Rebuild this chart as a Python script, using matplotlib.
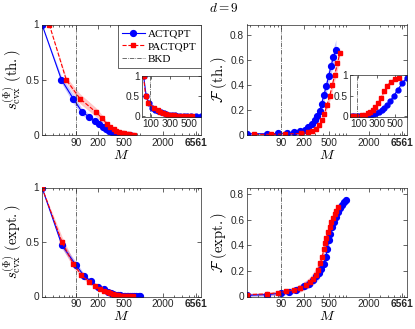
import matplotlib
matplotlib.use('Agg')
import numpy as np
import matplotlib.pyplot as plt
from matplotlib.ticker import LogLocator, NullFormatter

plt.rcParams['font.family'] = ['Liberation Sans', 'DejaVu Sans']
plt.rcParams['mathtext.fontset'] = 'cm'

# ---- top row: theory ----
M_act_th = [27, 54, 82, 112, 144, 177, 208, 237, 266, 295, 325, 353, 380, 412, 448, 487, 530, 576, 630]
M_pact_th = [35, 64, 104, 182, 232, 272, 306, 346, 379, 418, 460, 505, 556, 603, 665, 720]
M_pact_th_inset = [26, 48, 78, 137, 174, 204, 230, 260, 284, 314, 345, 379, 417, 452, 499, 540]

s_act_th = [1.0, 0.5, 0.33, 0.21, 0.165, 0.13, 0.10, 0.07, 0.05, 0.036, 0.026, 0.019, 0.013, 0.009, 0.006, 0.004, 0.002, 0.001, 0.0005]
s_act_th_err = [0, 0.03, 0.04, 0.03, 0.025, 0.02, 0.016, 0.012, 0.01, 0.008, 0.006, 0.005, 0.004, 0.003, 0.002, 0.002, 0.001, 0.001, 0.001]
s_pact_th = [1.0, 0.5, 0.33, 0.21, 0.15, 0.10, 0.075, 0.055, 0.04, 0.03, 0.022, 0.015, 0.01, 0.006, 0.003, 0.001]
s_pact_th_err = [0, 0.025, 0.045, 0.04, 0.03, 0.02, 0.015, 0.012, 0.01, 0.008, 0.006, 0.005, 0.004, 0.003, 0.002, 0.001]

F_act_th = [0.01, 0.01, 0.012, 0.015, 0.02, 0.028, 0.04, 0.06, 0.09, 0.12, 0.15, 0.19, 0.25, 0.32, 0.39, 0.47, 0.55, 0.62, 0.68]
F_act_th_err = [0.005, 0.005, 0.006, 0.008, 0.01, 0.012, 0.015, 0.02, 0.025, 0.03, 0.035, 0.04, 0.045, 0.05, 0.055, 0.06, 0.065, 0.07, 0.08]
F_pact_th = [0.005, 0.005, 0.008, 0.012, 0.02, 0.03, 0.05, 0.08, 0.12, 0.17, 0.24, 0.31, 0.40, 0.48, 0.57, 0.65]
F_pact_th_err = [0.003, 0.003, 0.004, 0.006, 0.008, 0.01, 0.015, 0.02, 0.025, 0.03, 0.035, 0.04, 0.045, 0.05, 0.05, 0.05]

F_act_th_in = [0, 0, 0.003, 0.006, 0.01, 0.015, 0.02, 0.03, 0.045, 0.07, 0.10, 0.14, 0.19, 0.27, 0.36, 0.5, 0.64, 0.8, 0.93]
F_act_th_in_err = [0.005, 0.005, 0.005, 0.006, 0.008, 0.01, 0.012, 0.015, 0.02, 0.025, 0.03, 0.04, 0.05, 0.06, 0.06, 0.06, 0.06, 0.05, 0.03]
F_pact_th_in = [0, 0, 0.005, 0.02, 0.04, 0.07, 0.1, 0.15, 0.22, 0.33, 0.45, 0.6, 0.73, 0.84, 0.9, 0.92]
F_pact_th_in_err = [0.005, 0.005, 0.006, 0.01, 0.015, 0.02, 0.03, 0.04, 0.05, 0.06, 0.06, 0.06, 0.05, 0.04, 0.03, 0.02]

# ---- bottom row: experiment ----
M_act_ex = [27, 55, 90, 121, 154, 200, 242, 279, 314, 345, 375, 409, 439, 465, 494, 517, 550, 584, 627, 673, 723, 776, 844, 900]
M_pact_ex = [27, 55, 82, 109, 145, 179, 215, 248, 279, 307, 333, 362, 389, 409, 428, 449, 477, 506, 536, 570, 605, 641, 689]

s_act_ex = [1.0, 0.47, 0.29, 0.19, 0.14, 0.09, 0.065, 0.045, 0.032, 0.024, 0.018, 0.013, 0.01, 0.008, 0.006, 0.005, 0.004, 0.003, 0.002, 0.0015, 0.001, 0.0008, 0.0005, 0.0003]
s_act_ex_err = [0, 0.03, 0.03, 0.02, 0.015, 0.012, 0.01, 0.008, 0.006, 0.005, 0.004, 0.003, 0.003, 0.002, 0.002, 0.002, 0.001, 0.001, 0.001, 0.001, 0.001, 0.001, 0.001, 0.001]
s_pact_ex = [1.0, 0.5, 0.3, 0.2, 0.135, 0.095, 0.068, 0.05, 0.037, 0.028, 0.021, 0.016, 0.012, 0.01, 0.008, 0.006, 0.005, 0.004, 0.003, 0.002, 0.0015, 0.001, 0.0005]
s_pact_ex_err = [0, 0.05, 0.035, 0.025, 0.02, 0.015, 0.012, 0.01, 0.008, 0.006, 0.005, 0.004, 0.003, 0.003, 0.002, 0.002, 0.002, 0.001, 0.001, 0.001, 0.001, 0.001, 0.001]

F_act_ex = [0.01, 0.015, 0.026, 0.036, 0.054, 0.08, 0.10, 0.127, 0.158, 0.186, 0.217, 0.256, 0.31, 0.373, 0.44, 0.49, 0.54, 0.58, 0.62, 0.66, 0.69, 0.715, 0.735, 0.75]
F_act_ex_err = [0.01, 0.012, 0.015, 0.02, 0.025, 0.03, 0.035, 0.04, 0.045, 0.05, 0.05, 0.05, 0.05, 0.05, 0.05, 0.045, 0.04, 0.04, 0.035, 0.03, 0.03, 0.025, 0.02, 0.02]
F_pact_ex = [0.015, 0.02, 0.03, 0.04, 0.05, 0.065, 0.09, 0.11, 0.14, 0.17, 0.21, 0.26, 0.31, 0.37, 0.42, 0.46, 0.50, 0.54, 0.58, 0.61, 0.64, 0.67, 0.70]
F_pact_ex_err = [0.01, 0.012, 0.015, 0.02, 0.025, 0.03, 0.035, 0.04, 0.045, 0.05, 0.05, 0.05, 0.05, 0.05, 0.05, 0.045, 0.04, 0.04, 0.035, 0.035, 0.03, 0.03, 0.03]

M_bkd = 90
x_ticks = [90, 200, 500, 2000, 6561]
inset_ticks = [100, 300, 500]

BLUE = '#0000ff'
RED = '#ff0000'
FRAME = '#262626'


def plot_series(ax, x, y, err, color, marker, ls, ms, label=None):
    x = np.array(x)
    y = np.array(y)
    err = np.array(err)
    ax.fill_between(x, y - err, y + err, color=color, alpha=0.22, lw=0)
    ax.plot(x, y, color=color, ls=ls, lw=0.8, marker=marker, ms=ms, mec=color, label=label)


def style_axes(ax, ylim, yticks, yticklabels, ylabel):
    ax.set_xscale('log')
    ax.set_xlim(27, 7800)
    ax.set_ylim(*ylim)
    ax.set_xticks(x_ticks)
    ax.set_xticklabels([str(t) for t in x_ticks])
    ax.xaxis.set_minor_locator(LogLocator(subs=np.arange(2, 10)))
    ax.xaxis.set_minor_formatter(NullFormatter())
    ax.get_xticklabels()[-1].set_fontweight('bold')
    ax.set_yticks(yticks)
    ax.set_yticklabels(yticklabels)
    ax.tick_params(which='both', direction='in', top=True, right=True, width=0.5,
                   labelsize=7.3, colors=FRAME, pad=2)
    ax.tick_params(which='major', length=3)
    ax.tick_params(which='minor', length=1.5)
    for sp in ax.spines.values():
        sp.set_linewidth(0.5)
        sp.set_color(FRAME)
    ax.set_xlabel('$M$', fontsize=10, labelpad=0)
    ax.set_ylabel(ylabel, fontsize=10.5, labelpad=1)
    ax.axvline(M_bkd, color='#333333', ls='-.', lw=0.5, label='BKD')


def style_inset(ax):
    ax.set_xlim(10, 630)
    ax.set_ylim(-0.02, 1.0)
    ax.set_xticks(inset_ticks)
    ax.set_yticks([0, 0.5, 1])
    ax.set_yticklabels(['0', '0.5', '1'])
    ax.tick_params(direction='in', top=True, right=True, width=0.5, length=2,
                   labelsize=7.3, colors=FRAME, pad=1.5)
    for sp in ax.spines.values():
        sp.set_linewidth(0.5)
        sp.set_color(FRAME)
    ax.axvline(M_bkd, color='#333333', ls='-.', lw=0.5)


fig = plt.figure(figsize=(4.15, 3.29), dpi=100)
W, H = 415.0, 329.0


def px_axes(x0, y0, x1, y1):
    return fig.add_axes([x0 / W, 1 - y1 / H, (x1 - x0) / W, (y1 - y0) / H])


ax_tl = px_axes(42, 24.5, 201, 135)
ax_tr = px_axes(247, 24.5, 407, 135)
ax_bl = px_axes(42, 187.5, 201, 296.5)
ax_br = px_axes(247, 187.5, 407, 296.5)

# top-left
plot_series(ax_tl, M_act_th, s_act_th, s_act_th_err, BLUE, 'o', '-', 4.2, 'ACTQPT')
plot_series(ax_tl, M_pact_th, s_pact_th, s_pact_th_err, RED, 's', '--', 3.5, 'PACTQPT')
style_axes(ax_tl, (0, 1), [0, 0.5, 1], ['0', '0.5', '1'], r'$s^{(\Phi)}_{\mathrm{cvx}}\ (\mathrm{th.})$')
leg = ax_tl.legend(loc='upper right', frameon=True, fancybox=False,
                   edgecolor=FRAME, framealpha=1, handlelength=2.0, borderpad=0.4,
                   labelspacing=0.25, handletextpad=0.3, borderaxespad=0.0,
                   prop={'family': 'Liberation Serif', 'size': 8})
leg.get_frame().set_linewidth(0.5)

# top-right
plot_series(ax_tr, M_act_th, F_act_th, F_act_th_err, BLUE, 'o', '-', 4.2)
plot_series(ax_tr, M_pact_th, F_pact_th, F_pact_th_err, RED, 's', '--', 3.5)
style_axes(ax_tr, (0, 0.88), [0, 0.2, 0.4, 0.6, 0.8], ['0', '0.2', '0.4', '0.6', '0.8'],
           r'$\mathcal{F}\ (\mathrm{th.})$')

# bottom-left
plot_series(ax_bl, M_act_ex, s_act_ex, s_act_ex_err, BLUE, 'o', '-', 4.2)
plot_series(ax_bl, M_pact_ex, s_pact_ex, s_pact_ex_err, RED, 's', '--', 3.5)
style_axes(ax_bl, (0, 1), [0, 0.5, 1], ['0', '0.5', '1'], r'$s^{(\Phi)}_{\mathrm{cvx}}\ (\mathrm{expt.})$')

# bottom-right
plot_series(ax_br, M_act_ex, F_act_ex, F_act_ex_err, BLUE, 'o', '-', 4.2)
plot_series(ax_br, M_pact_ex, F_pact_ex, F_pact_ex_err, RED, 's', '--', 3.5)
style_axes(ax_br, (0, 0.85), [0, 0.2, 0.4, 0.6, 0.8], ['0', '0.2', '0.4', '0.6', '0.8'],
           r'$\mathcal{F}\ (\mathrm{expt.})$')

# insets
in_tl = px_axes(142, 76, 201, 117)
plot_series(in_tl, M_act_th, s_act_th, s_act_th_err, BLUE, 'o', '-', 3.5)
plot_series(in_tl, M_pact_th_inset, s_pact_th, s_pact_th_err, RED, 's', '--', 3)
style_inset(in_tl)

in_tr = px_axes(350, 75, 407, 117)
plot_series(in_tr, M_act_th, F_act_th_in, F_act_th_in_err, BLUE, 'o', '-', 3.5)
plot_series(in_tr, M_pact_th_inset, F_pact_th_in, F_pact_th_in_err, RED, 's', '--', 3)
style_inset(in_tr)

fig.text(224 / W, 1 - 8 / H, '$d=9$', ha='center', va='center', fontsize=9.5)

fig.savefig('out.png', dpi=100)
